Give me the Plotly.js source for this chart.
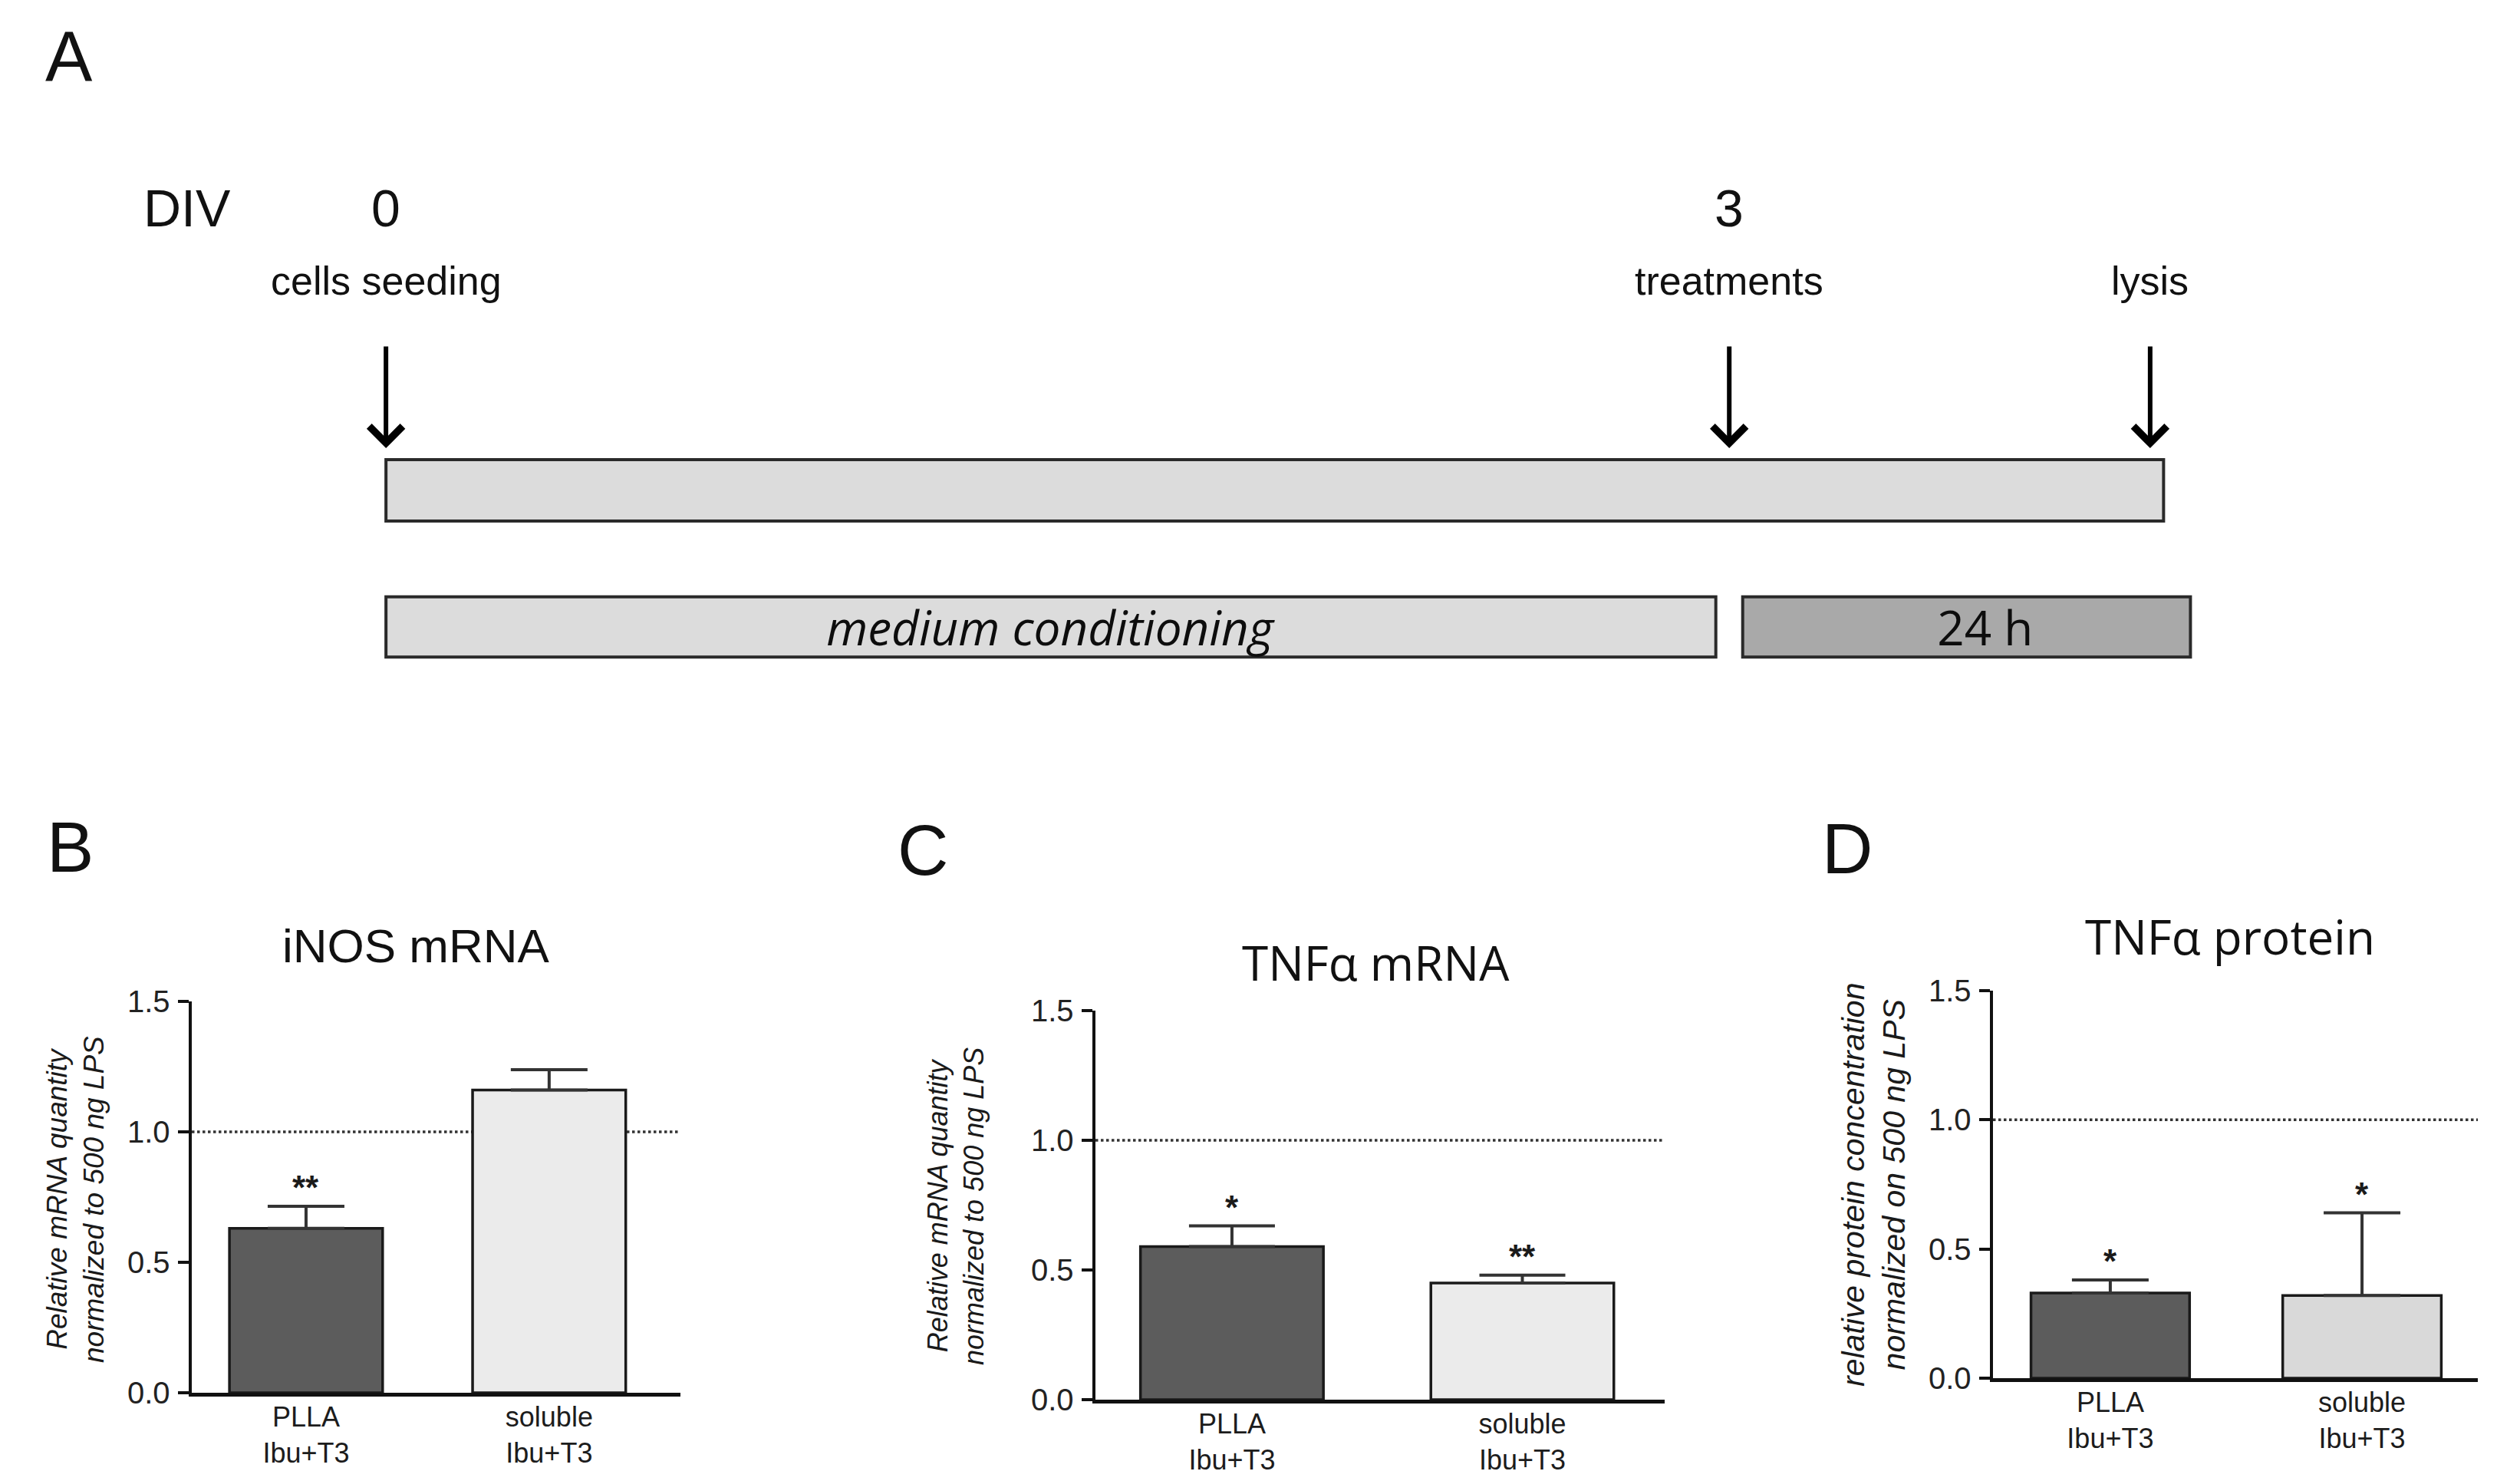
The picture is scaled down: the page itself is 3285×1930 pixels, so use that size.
<!DOCTYPE html>
<html><head><meta charset="utf-8">
<script src="https://cdn.plot.ly/plotly-3.0.1.min.js"></script>
<style>html,body{margin:0;padding:0;background:#fff}#chart{width:3285px;height:1930px}</style>
</head><body><div id="chart"></div>
<script>
// ---------------- data ----------------
const groups = ['PLLA', 'soluble'];
const groupTickLabels = ['PLLA<br>Ibu+T3', 'soluble<br>Ibu+T3'];

const inosMean = [0.63, 1.16];
const inosSem = [0.085, 0.078];
const inosSig = ['**', ''];

const tnfMrnaMean = [0.59, 0.45];
const tnfMrnaSem = [0.08, 0.03];
const tnfMrnaSig = ['*', '**'];

const tnfProtMean = [0.33, 0.32];
const tnfProtSem = [0.05, 0.32];
const tnfProtSig = ['*', '*'];

const referenceLevel = 1.0;
const yTicks = [0, 0.5, 1.0, 1.5];

// timeline (days in vitro)
const eventDays = [0, 3, 3.94];
const eventDivLabels = ['0', '3', ''];
const eventNames = ['cells seeding', 'treatments', 'lysis'];
const stageNames = ['', '<i>medium conditioning</i>', '24 h'];
const stageLane = ['culture', 'phases', 'phases'];
const stageStart = [0, 0, 3.03];
const stageEnd = [3.97, 2.97, 4.03];

// ---------------- helpers ----------------
const W = 3285, H = 1930;
const px = v => v / W;
const py = v => 1 - v / H;
const SANS = 'Liberation Sans, Arial, sans-serif';
const CAL = 'Open Sans, Lato, sans-serif';
const INK = '#111';

function note(obj) {
  return Object.assign({showarrow: false, xanchor: 'center', yanchor: 'middle'}, obj);
}
function barTrace(mean, sem, xa, ya, lightColor, capW) {
  return {
    type: 'bar', x: groups, y: mean, xaxis: xa, yaxis: ya, width: 0.63,
    marker: {color: ['#5c5c5c', lightColor], line: {color: '#1a1a1a', width: 3.5}},
    error_y: {type: 'data', symmetric: false, array: sem, arrayminus: sem.map(() => 0),
              color: '#333', thickness: 4, width: capW},
    hoverinfo: 'skip', showlegend: false
  };
}
function xAxisDef(domain, range, anchor) {
  return {domain: domain, range: range, anchor: anchor, type: 'category',
    tickvals: groups, ticktext: groupTickLabels, showline: true, linewidth: 4.5, linecolor: INK,
    ticks: '', showgrid: false, zeroline: false, ticklabelstandoff: -4,
    tickfont: {family: SANS, size: 36, color: '#1c1c1c'}, fixedrange: true};
}
function yAxisDef(domain, anchor) {
  return {domain: domain, range: [0, 1.5], anchor: anchor, tickvals: yTicks, tickformat: '.1f',
    showline: true, linewidth: 4.5, linecolor: INK, ticks: 'outside', ticklen: 14, tickwidth: 4,
    tickcolor: INK, showgrid: false, zeroline: false, ticklabelstandoff: 2,
    tickfont: {family: SANS, size: 40, color: '#222'}, fixedrange: true};
}
function sigAnnots(mean, sem, sig, xa, ya) {
  const out = [];
  sig.forEach((s, i) => {
    if (!s) return;
    out.push({xref: xa, yref: ya, x: groups[i], y: mean[i] + sem[i], text: s, showarrow: false,
      xanchor: 'center', yanchor: 'bottom', yshift: -2,
      font: {family: SANS, size: 44, weight: 'bold', color: '#1a1a1a'}});
  });
  return out;
}
function refLine(xa, ya) {
  return {type: 'line', xref: xa + ' domain', yref: ya, x0: 0, x1: 1, y0: referenceLevel, y1: referenceLevel,
    layer: 'below', line: {color: '#333', width: 3.5, dash: 'dot'}};
}

// ---------------- traces ----------------
const traces = [
  barTrace(inosMean, inosSem, 'x', 'y', '#ebebeb', 50),
  barTrace(tnfMrnaMean, tnfMrnaSem, 'x2', 'y2', '#ebebeb', 56),
  barTrace(tnfProtMean, tnfProtSem, 'x3', 'y3', '#d9d9d9', 50),
  {
    type: 'bar', orientation: 'h', xaxis: 'x4', yaxis: 'y4',
    y: stageLane, base: stageStart, x: stageEnd.map((e, i) => e - stageStart[i]),
    width: [0.449, 0.44, 0.44],
    marker: {color: ['#dcdcdc', '#dcdcdc', '#a9a9a9'], line: {color: '#2a2a2a', width: 4}},
    text: stageNames.map((t, i) => i === 2 ? '\u00a0\u00a0\u00a0' + t : t),
    textposition: 'inside', insidetextanchor: 'middle', constraintext: 'none',
    textangle: 0, textfont: {family: CAL, size: 62, color: '#0d0d0d'},
    hoverinfo: 'skip', showlegend: false
  }
];

// ---------------- annotations ----------------
const annotations = [];
// panel letters
[['A', 90, 74], ['B', 91, 1104], ['C', 1203, 1108], ['D', 2408, 1106]].forEach(([t, x, y]) => {
  annotations.push(note({xref: 'paper', yref: 'paper', x: px(x), y: py(y), text: t,
    font: {family: SANS, size: 92, color: INK}}));
});
// panel titles
annotations.push(note({xref: 'paper', yref: 'paper', x: px(542), y: py(1232), text: 'iNOS mRNA',
  font: {family: SANS, size: 62, color: INK}}));
annotations.push(note({xref: 'paper', yref: 'paper', x: px(1793), y: py(1254), text: 'TNF\u03b1 mRNA',
  font: {family: CAL, size: 62, color: INK}}));
annotations.push(note({xref: 'paper', yref: 'paper', x: px(2907), y: py(1220), text: 'TNF\u03b1 protein',
  font: {family: CAL, size: 62, color: INK}}));
// y-axis titles
annotations.push(note({xref: 'paper', yref: 'paper', x: px(98), y: py(1563), textangle: -90,
  text: 'Relative mRNA quantity<br>normalized to 500 ng LPS', font: {family: SANS, size: 37, style: 'italic', color: '#1a1a1a'}}));
annotations.push(note({xref: 'paper', yref: 'paper', x: px(1246), y: py(1572), textangle: -90,
  text: 'Relative mRNA quantity<br>normalized to 500 ng LPS', font: {family: SANS, size: 36, style: 'italic', color: '#1a1a1a'}}));
annotations.push(note({xref: 'paper', yref: 'paper', x: px(2442), y: py(1544), textangle: -90,
  text: 'relative protein concentration<br>normalized on 500 ng LPS', font: {family: SANS, size: 41, style: 'italic', color: '#1a1a1a'}}));
// significance
annotations.push(...sigAnnots(inosMean, inosSem, inosSig, 'x', 'y'));
annotations.push(...sigAnnots(tnfMrnaMean, tnfMrnaSem, tnfMrnaSig, 'x2', 'y2'));
annotations.push(...sigAnnots(tnfProtMean, tnfProtSem, tnfProtSig, 'x3', 'y3'));
// timeline labels
annotations.push(note({xref: 'paper', yref: 'paper', x: px(244), y: py(271), text: 'DIV',
  font: {family: SANS, size: 68, color: INK}}));
eventDays.forEach((d, i) => {
  if (eventDivLabels[i]) {
    annotations.push(note({xref: 'x4', yref: 'paper', x: d, y: py(271), text: eventDivLabels[i],
      font: {family: SANS, size: 68, color: INK}}));
  }
  annotations.push(note({xref: 'x4', yref: 'paper', x: d, y: py(366), text: eventNames[i],
    font: {family: SANS, size: 52, color: INK}}));
  annotations.push({xref: 'x4', yref: 'paper', x: d, y: py(584), text: '', showarrow: true,
    ax: 0, ay: -134, arrowhead: 4, arrowsize: 1.4, arrowwidth: 6, arrowcolor: '#000', standoff: 0});
});

// ---------------- layout ----------------
const layout = {
  width: W, height: H, margin: {l: 0, r: 0, t: 0, b: 0},
  paper_bgcolor: '#fff', plot_bgcolor: 'rgba(0,0,0,0)',
  font: {family: SANS, color: INK}, showlegend: false, barmode: 'overlay',
  xaxis: xAxisDef([px(250), px(887)], [-0.47, 1.54], 'y'),
  yaxis: yAxisDef([1 - 1815 / H, 1 - 1305 / H], 'x'),
  xaxis2: xAxisDef([px(1428), px(2170)], [-0.47, 1.49], 'y2'),
  yaxis2: yAxisDef([1 - 1824 / H, 1 - 1317 / H], 'x2'),
  xaxis3: xAxisDef([px(2598), px(3230)], [-0.466, 1.46], 'y3'),
  yaxis3: yAxisDef([1 - 1796 / H, 1 - 1291 / H], 'x3'),
  xaxis4: {domain: [0, 1], range: [-0.862, 4.766], anchor: 'y4', visible: false, fixedrange: true},
  yaxis4: {domain: [0, 1], type: 'category', categoryarray: ['culture', 'phases'],
           range: [7.253, -3.590], anchor: 'x4', visible: false, fixedrange: true},
  shapes: [refLine('x', 'y'), refLine('x2', 'y2'), refLine('x3', 'y3')],
  annotations: annotations
};

Plotly.newPlot('chart', traces, layout, {staticPlot: true, displayModeBar: false});
</script>
</body></html>
